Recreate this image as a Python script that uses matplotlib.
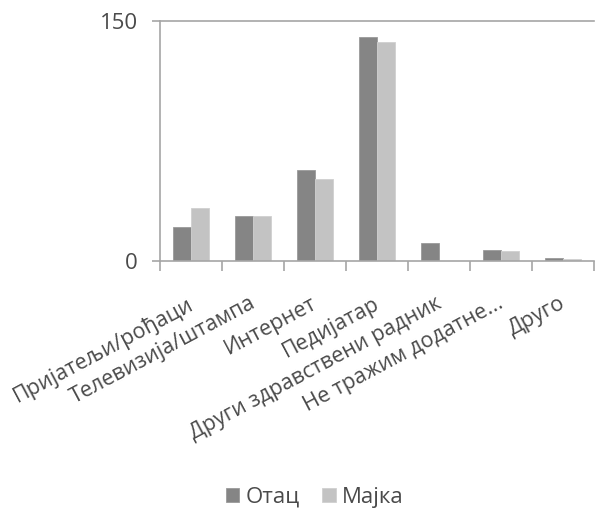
import matplotlib
matplotlib.use("Agg")
import matplotlib.pyplot as plt
import matplotlib.transforms as mtransforms
import numpy as np

categories = ["Пријатељи/рођаци", "Телевизија/штампа", "Интернет", "Педијатар",
              "Други здравствени радник", "Не тражим додатне...", "Друго"]
otac = [21, 28, 57, 140, 11, 7, 2]
majka = [33, 28, 51, 137, 0, 6, 1]
series_names = ["Отац", "Мајка"]
y_ticks = [0, 150]

plt.rcParams["font.family"] = ["Open Sans", "DejaVu Sans"]

fig = plt.figure(figsize=(5.96, 5.12), dpi=100)
ax = fig.add_axes([160 / 596, (512 - 261) / 512, 434 / 596, 240 / 512])

x = np.arange(len(categories))
w = 0.29
dark, light = "#858585", "#c3c3c3"
ax.bar(x - w / 2, otac, w, color=dark, edgecolor="#9a9a9a", linewidth=0.6, label=series_names[0])
ax.bar(x + w / 2, majka, w, color=light, edgecolor="#d0d0d0", linewidth=0.6, label=series_names[1])

ax.set_xlim(-0.5, len(categories) - 0.5)
ax.set_ylim(0, 150)

axis_col = "#a6a6a6"
text_col = "#4a4a4a"
for s in ["top", "right"]:
    ax.spines[s].set_visible(False)
for s in ["left", "bottom"]:
    ax.spines[s].set_color(axis_col)
    ax.spines[s].set_linewidth(1.2)

ax.axhline(150, color=axis_col, linewidth=1.2, clip_on=False)

ax.set_yticks(y_ticks)
ax.tick_params(axis="y", length=5.8, width=1.2, color=axis_col, labelsize=16,
               labelcolor=text_col, pad=10)

ax.set_xticks(x)
ax.set_xticklabels(categories, rotation=28, ha="right", rotation_mode="anchor",
                   fontsize=15.5, color=text_col)
ax.tick_params(axis="x", which="major", length=0, pad=23)
shift = mtransforms.ScaledTranslation(-4 / 100, 0, fig.dpi_scale_trans)
for lbl in ax.get_xticklabels():
    lbl.set_transform(lbl.get_transform() + shift)
ax.set_xticks(np.arange(len(categories) + 1) - 0.5, minor=True)
ax.tick_params(axis="x", which="minor", length=7, width=1.2, color=axis_col)

leg = fig.legend(loc="center", bbox_to_anchor=(315 / 596, 1 - 497 / 512), ncol=2,
                 frameon=False, fontsize=16, handlelength=0.6, handleheight=0.6,
                 handletextpad=0.3, columnspacing=1.0)
for t in leg.get_texts():
    t.set_color(text_col)

fig.savefig("out.png", dpi=100)
